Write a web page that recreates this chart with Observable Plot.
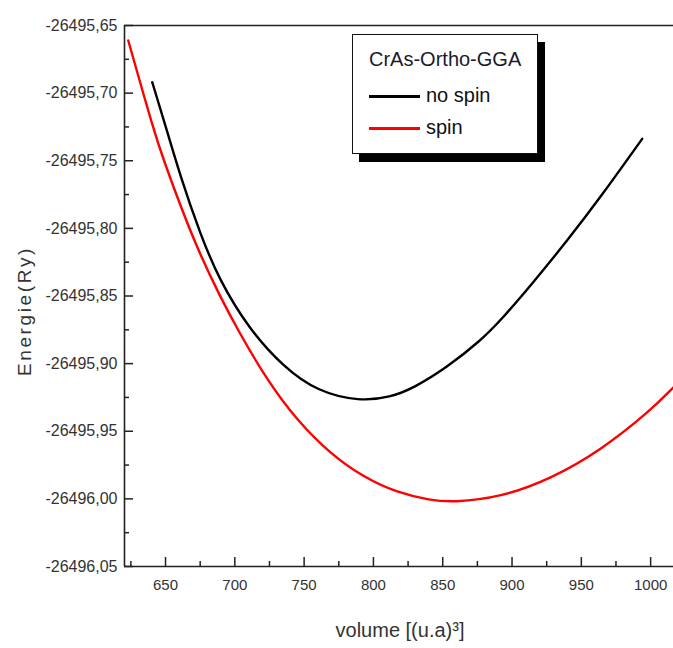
<!DOCTYPE html>
<html>
<head>
<meta charset="utf-8">
<script src="https://cdn.jsdelivr.net/npm/d3@7"></script>
<script src="https://cdn.jsdelivr.net/npm/@observablehq/plot@0.6"></script>
<style>
  html, body { margin: 0; padding: 0; background: #fff; }
  #wrap { position: relative; width: 673px; height: 648px; overflow: hidden; }
  #legend {
    position: absolute; left: 352px; top: 34px; width: 184px; height: 118px;
    background: #fff; border: 1.5px solid #111; box-shadow: 7px 8px 0 #000;
    font-family: "Liberation Sans", Arial, sans-serif; color: #111;
  }
  #legend .title { position: absolute; left: 16px; top: 13px; font-size: 20px; color: #1a1a2a; }
  #legend .item { position: absolute; left: 16px; font-size: 20px; height: 22px; line-height: 22px; }
  #legend .swatch { display: inline-block; width: 51px; height: 3px; vertical-align: middle; margin-right: 6px; }
</style>
</head>
<body>
<div id="wrap"></div>
<script>
// ---- data ----
const noSpinVolume = [640.4, 648.8, 660.8, 675.2, 688.4, 710.1, 735.3, 759.4, 790.0, 812.3, 829.1, 853.2, 877.3, 891.7, 915.7, 939.8, 963.8, 993.9];
const noSpinEnergy = [-26495.6919, -26495.7200, -26495.7620, -26495.8045, -26495.8374, -26495.8743, -26495.9027, -26495.9205, -26495.9280, -26495.9249, -26495.9180, -26495.9027, -26495.8830, -26495.8682, -26495.8395, -26495.8091, -26495.7770, -26495.7338];

const spinVolume = [623.1, 641.5, 648.8, 662.0, 675.2, 689.7, 701.7, 723.4, 745.0, 769.0, 793.1, 817.2, 841.2, 857.0, 891.7, 927.8, 963.8, 999.9, 1016.5];
const spinEnergy = [-26495.6611, -26495.7277, -26495.7500, -26495.7868, -26495.8200, -26495.8510, -26495.8743, -26495.9126, -26495.9422, -26495.9668, -26495.9841, -26495.9955, -26496.0010, -26496.0026, -26495.9989, -26495.9853, -26495.9643, -26495.9348, -26495.9175];

const seriesNames = ["no spin", "spin"];
const seriesColors = ["#000000", "#ff0000"];
const legendTitle = "CrAs-Ortho-GGA";

const xDomain = [620.4, 1016.5];
const yDomain = [-26496.05, -26495.65];
const xMajorTicks = [650, 700, 750, 800, 850, 900, 950, 1000];
const xMinorTicks = [625, 675, 725, 775, 825, 875, 925, 975];
const yMajorTicks = [-26496.05, -26496.00, -26495.95, -26495.90, -26495.85, -26495.80, -26495.75, -26495.70, -26495.65];
const yMinorTicks = [-26496.025, -26495.975, -26495.925, -26495.875, -26495.825, -26495.775, -26495.725, -26495.675];
const xLabel = "volume [(u.a)³]";
const yLabel = "Energie(Ry)";

// ---- build table ----
const rows = [
  ...noSpinVolume.map((v, i) => ({volume: v, energy: noSpinEnergy[i], series: seriesNames[0]})),
  ...spinVolume.map((v, i) => ({volume: v, energy: spinEnergy[i], series: seriesNames[1]}))
];

const fmtY = d => d.toFixed(2).replace(".", ",");
const fmtX = d => String(d);
const axisColor = "#222";

const chart = Plot.plot({
  width: 673,
  height: 648,
  marginLeft: 124,
  marginRight: 0,
  marginTop: 25,
  marginBottom: 82,
  style: {fontFamily: "'Liberation Sans', Arial, sans-serif", background: "#fff", overflow: "visible"},
  x: {domain: xDomain},
  y: {domain: yDomain},
  color: {domain: seriesNames, range: seriesColors},
  marks: [
    // labels
    Plot.axisX(xMajorTicks, {tickSize: 0, tickPadding: 13, fontSize: 15, fill: "#333", tickFormat: fmtX, label: null}),
    Plot.axisY(yMajorTicks, {tickSize: 0, tickPadding: 7, fontSize: 16, fill: "#333", tickFormat: fmtY, label: null}),
    // inward ticks
    Plot.axisX(xMajorTicks, {tickSize: -9, text: null, stroke: axisColor, strokeWidth: 1.5, label: null}),
    Plot.axisX(xMinorTicks, {tickSize: -5, text: null, stroke: axisColor, strokeWidth: 1.5, label: null}),
    Plot.axisY(yMajorTicks, {tickSize: -9, text: null, stroke: axisColor, strokeWidth: 1.5, label: null}),
    Plot.axisY(yMinorTicks, {tickSize: -5, text: null, stroke: axisColor, strokeWidth: 1.5, label: null}),
    // frame lines
    Plot.ruleX([xDomain[0]], {stroke: axisColor, strokeWidth: 1.6}),
    Plot.ruleY([yDomain[0]], {stroke: axisColor, strokeWidth: 1.6}),
    Plot.ruleY([yDomain[1]], {stroke: axisColor, strokeWidth: 1.6}),
    // curves
    Plot.line(rows, {x: "volume", y: "energy", z: "series", stroke: "series", strokeWidth: 2.4, curve: "basis"})
  ]
});

const wrap = document.getElementById("wrap");
wrap.appendChild(chart);
const svg = d3.select(chart);

// axis titles
svg.append("text")
  .attr("x", 400).attr("y", 637)
  .attr("text-anchor", "middle")
  .attr("font-size", 20).attr("fill", "#333")
  .attr("font-family", "'Liberation Sans', Arial, sans-serif")
  .text(xLabel);
svg.append("text")
  .attr("transform", "translate(31,311) rotate(-90)")
  .attr("text-anchor", "middle")
  .attr("font-size", 19).attr("fill", "#333")
  .attr("letter-spacing", 2.6)
  .attr("font-family", "'Liberation Sans', Arial, sans-serif")
  .text(yLabel);

// legend
const legend = document.createElement("div");
legend.id = "legend";
let html = `<div class="title">${legendTitle}</div>`;
seriesNames.forEach((n, i) => {
  html += `<div class="item" style="top:${49 + i * 32}px"><span class="swatch" style="background:${seriesColors[i]}"></span>${n}</div>`;
});
legend.innerHTML = html;
wrap.appendChild(legend);
</script>
</body>
</html>
